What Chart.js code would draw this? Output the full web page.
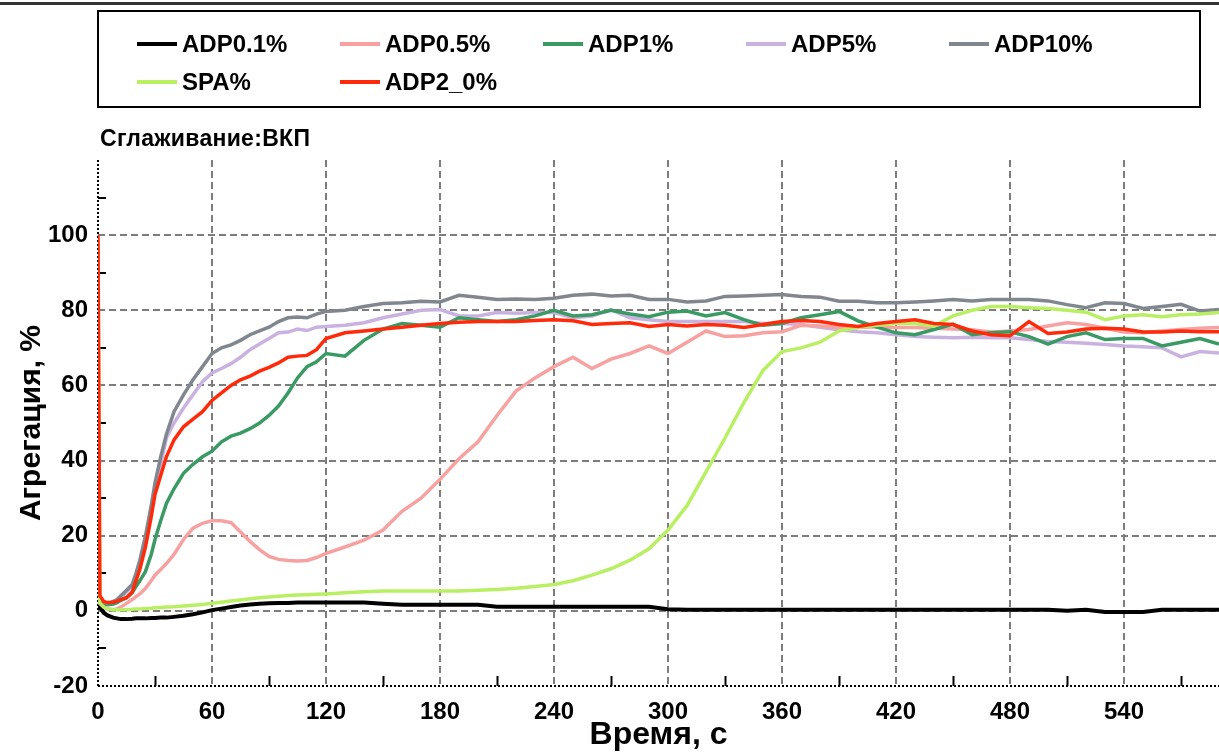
<!DOCTYPE html>
<html lang="ru">
<head>
<meta charset="utf-8">
<title>Агрегация</title>
<script src="https://cdn.jsdelivr.net/npm/chart.js@4.4.1/dist/chart.umd.min.js"></script>
<style>
  html, body {
    margin: 0;
    padding: 0;
    background: #fff;
  }
  .chart {
    position: relative;
    width: 1219px;
    height: 754px;
    overflow: hidden;
    font-family: "Liberation Sans Narrow", "Liberation Sans", Arial, sans-serif;
    font-weight: bold;
  }
  .chart canvas {
    position: absolute;
    left: 0;
    top: 0;
  }
  .top-rule {
    position: absolute;
    left: 0;
    top: 2px;
    width: 1219px;
    height: 0;
    border-top: 3px solid #333;
  }
  .chart-legend {
    position: absolute;
    left: 97px;
    top: 10px;
    width: 1104px;
    height: 98px;
    border: 2px solid #000;
    display: grid;
    grid-template-columns: repeat(5, 203px);
    grid-auto-rows: 38px;
    padding: 13px 0 0 38px;
    box-sizing: border-box;
  }
  .chart-legend .item {
    display: flex;
    align-items: center;
    font-size: 24px;
    color: #000;
    white-space: nowrap;
  }
  .chart-legend .swatch {
    width: 40px;
    height: 4px;
    margin-right: 5px;
  }
  .chart-subtitle {
    position: absolute;
    left: 100px;
    top: 125px;
    font-size: 23px;
    letter-spacing: 0.3px;
    color: #000;
  }
</style>
</head>
<body>
<div class="chart">
  <canvas id="chart" width="1219" height="754"></canvas>
  <div class="top-rule"></div>
  <div class="chart-legend" id="legend"></div>
  <div class="chart-subtitle">Сглаживание:ВКП</div>
</div>
<script>
// time, s
const times = [
  0, 1, 3, 5, 8, 10, 12, 15, 18, 20, 22, 25, 28, 30, 33, 36, 40,
  45, 50, 55, 60, 65, 70, 75, 80, 85, 90, 95, 100, 105, 110, 115, 120,
  130, 140, 150, 160, 170, 180, 190, 200, 210, 220, 230, 240, 250, 260, 270, 280, 290,
  300, 310, 320, 330, 340, 350, 360, 370, 380, 390, 400, 410, 420, 430, 440, 450, 460,
  470, 480, 490, 500, 510, 520, 530, 540, 550, 560, 570, 580, 590,
]

const adp01 = [
  3, 1, -0.5, -1.2, -1.8, -2, -2.2, -2.2, -2.1, -2, -2, -2, -1.9, -1.9, -1.8, -1.8, -1.6,
  -1.3, -0.9, -0.4, 0.2, 0.6, 1, 1.4, 1.7, 1.9, 2, 2.1, 2.1, 2.2, 2.2, 2.2, 2.2,
  2.2, 2.2, 1.9, 1.6, 1.6, 1.6, 1.6, 1.6, 1.1, 1.1, 1.1, 1.1, 1.1, 1.1, 1.1, 1.1, 1.1,
  0.4, 0.3, 0.3, 0.3, 0.3, 0.3, 0.3, 0.3, 0.3, 0.3, 0.3, 0.3, 0.3, 0.3, 0.3, 0.3, 0.3,
  0.3, 0.3, 0.3, 0.3, 0, 0.3, -0.3, -0.3, -0.3, 0.3, 0.3, 0.3, 0.3,
]

const adp05 = [
  3, 2, 1, 0.5, 0.3, 0.5, 1, 2, 3, 3.8, 4.5, 6, 8, 9.5, 11, 12.6, 15,
  19, 22, 23.3, 24, 24, 23.5, 21, 18.5, 16.3, 14.5, 13.7, 13.4, 13.3, 13.4, 14.2, 15.3,
  17, 18.8, 21.5, 26.5, 30, 35, 40.5, 45, 52, 58.5, 62, 65, 67.5, 64.5, 67, 68.5, 70.5,
  68.5, 71.5, 74.5, 73, 73.2, 74, 74.3, 76, 75.8, 75.4, 75.4, 75.6, 75.4, 75.4, 75.2, 75, 74.8,
  74.2, 74.5, 74.9, 75.8, 76.7, 76.2, 75.2, 74.2, 74, 74.5, 74.9, 75.2, 75.4,
]

const adp1 = [
  3, 2.2, 1.8, 1.6, 1.8, 2.2, 2.8, 3.5, 4.8, 6.5, 8, 10.5, 15, 19, 24, 28.6, 32.5,
  36.6, 39, 41, 42.5, 45, 46.5, 47.3, 48.5, 50, 52, 54.5, 58, 62, 65, 66.3, 68.5,
  67.8, 72, 75, 76.5, 76, 75.5, 78, 77.5, 77, 77.5, 78.5, 80, 78.5, 78.8, 80, 79, 78.3,
  79.5, 79.8, 78.5, 79.4, 77.5, 76, 76.5, 78, 78.8, 79.7, 77.2, 75.5, 74, 73.5, 74.9, 76.3, 73.5,
  74, 74.3, 73, 71, 73, 74, 72.2, 72.5, 72.5, 70.5, 71.5, 72.5, 71,
]

const adp5 = [
  3, 2.2, 1.8, 1.8, 2.2, 2.8, 3.5, 5, 6.5, 9, 12, 18, 26, 32, 39, 46, 50,
  54, 57.5, 61, 63.3, 64.5, 65.8, 67.5, 69.5, 71, 72.5, 74, 74.2, 75, 74.6, 75.5, 75.7,
  76, 76.7, 78, 79, 80, 80.2, 78.5, 78.5, 79.4, 79.2, 79.4, 79.4, 78, 78.5, 80.2, 78, 77.5,
  77, 77, 77, 77, 77, 76.5, 76.5, 76.2, 75.5, 74.8, 74.3, 74, 73.5, 73, 72.8, 72.7, 72.8,
  72.7, 72.7, 72.2, 71.7, 71.5, 71.2, 70.9, 70.5, 70.3, 70, 67.6, 69, 68.6,
]

const adp10 = [
  3, 2.5, 2, 2, 2.5, 3, 4, 5.5, 7, 10, 13.4, 20, 28, 34, 41, 47, 53,
  57.5, 61.5, 65, 68.5, 70, 70.8, 72, 73.5, 74.5, 75.5, 77, 78, 78.2, 78, 79, 79.7,
  80, 81, 81.8, 82, 82.4, 82.2, 84, 83.5, 82.9, 83, 82.9, 83.2, 84, 84.3, 83.8, 84, 82.9,
  82.9, 82.2, 82.5, 83.7, 83.8, 84, 84.2, 83.7, 83.5, 82.4, 82.4, 82, 82, 82.2, 82.5, 82.9, 82.5,
  82.9, 82.9, 82.9, 82.5, 81.5, 80.7, 82, 81.8, 80.5, 81, 81.6, 79.8, 80.2,
]

const spa = [
  98, 2, 1, 0.6, 0.3, 0.3, 0.3, 0.3, 0.4, 0.5, 0.5, 0.6, 0.7, 0.8, 0.9, 1, 1.1,
  1.3, 1.5, 1.7, 2, 2.3, 2.6, 2.9, 3.2, 3.5, 3.7, 3.9, 4.1, 4.2, 4.3, 4.4, 4.5,
  4.8, 5.1, 5.3, 5.3, 5.3, 5.3, 5.3, 5.5, 5.7, 6, 6.5, 7, 8, 9.5, 11.2, 13.5, 16.5,
  21.5, 28, 37, 46, 55.5, 64, 69, 70, 71.5, 74.5, 75.5, 76, 76.5, 76.5, 75.8, 78.5, 80,
  81, 81, 80.7, 80.5, 80, 79.5, 77.5, 78.5, 78.8, 78.3, 78.8, 79, 79.4,
]

const adp2 = [
  100, 4, 2.5, 2.2, 2.3, 2.6, 3, 3.5, 5, 8, 11, 17, 25, 31, 36, 41, 45.5,
  49, 51, 53, 56, 58, 60, 61.5, 62.5, 63.8, 64.8, 66, 67.5, 67.8, 68, 69.5, 72.5,
  74, 74.5, 75, 75.5, 76, 76.5, 76.8, 77, 77, 77, 77.3, 77.5, 77.2, 76.2, 76.5, 76.7, 75.7,
  76.2, 75.8, 76.2, 76, 75.4, 76.2, 77, 77.3, 77, 76.2, 75.7, 76.5, 77, 77.5, 76.5, 76.2, 74.5,
  73.5, 73.2, 77, 73.8, 74.2, 75, 75.2, 75, 74.2, 74.2, 74.5, 74.3, 74.3,
]

const seriesNames = ["ADP0.1%", "ADP0.5%", "ADP1%", "ADP5%", "ADP10%", "SPA%", "ADP2_0%"]
const seriesValues = [adp01, adp05, adp1, adp5, adp10, spa, adp2]
const seriesColors = ["#000000", "#f7a1a1", "#3a9a64", "#c9b2e0", "#80878e", "#b9ef62", "#ff2a0a"]
// lower = drawn later (on top)
const seriesOrder = [6, 4, 3, 5, 2, 1, 0]

const xTickValues = [0, 60, 120, 180, 240, 300, 360, 420, 480, 540]
const xMinorValues = [30, 90, 150, 210, 270, 330, 390, 450, 510, 570]
const yTickValues = [-20, 0, 20, 40, 60, 80, 100, 120]
const yMinorValues = [-10, 10, 30, 50, 70, 90, 110]

const FONT = "'Liberation Sans Narrow', 'Liberation Sans', Arial, sans-serif"

const legendEl = document.getElementById("legend")
seriesNames.forEach((name, i) => {
  const item = document.createElement("div")
  item.className = "item"
  const sw = document.createElement("span")
  sw.className = "swatch"
  sw.style.background = seriesColors[i]
  const label = document.createElement("span")
  label.textContent = name
  item.appendChild(sw)
  item.appendChild(label)
  legendEl.appendChild(item)
})

// dotted axis lines + small inner ticks
const axisDecor = {
  id: "axisDecor",
  beforeDatasetsDraw(chart) {
    const { ctx, chartArea: a, scales } = chart
    const line = (x1, y1, x2, y2) => {
      ctx.beginPath()
      ctx.moveTo(x1, y1)
      ctx.lineTo(x2, y2)
      ctx.stroke()
    }
    ctx.save()
    ctx.strokeStyle = "#000"
    ctx.lineWidth = 2
    xMinorValues.forEach((v) => {
      const px = Math.round(scales.x.getPixelForValue(v)) + 0.5
      line(px, a.bottom, px, a.bottom - 10)
    })
    yMinorValues.forEach((v) => {
      const py = Math.round(scales.y.getPixelForValue(v))
      line(a.left, py, a.left + 8, py)
    })
    ctx.setLineDash([2, 2])
    line(a.left, a.top, a.left, a.bottom)
    line(a.left, a.bottom, a.right, a.bottom)
    ctx.restore()
  },
}

const ctx = document.getElementById("chart").getContext("2d")

new Chart(ctx, {
  type: "line",
  data: {
    datasets: seriesNames.map((name, i) => ({
      label: name,
      data: times.map((t, j) => ({ x: t, y: seriesValues[i][j] })),
      borderColor: seriesColors[i],
      backgroundColor: seriesColors[i],
      borderWidth: i === 0 ? 4 : 3.5,
      pointRadius: 0,
      tension: 0,
      fill: false,
      order: seriesOrder[i],
    })),
  },
  options: {
    responsive: false,
    animation: false,
    layout: {
      padding: { top: 160, left: 0, right: 0, bottom: 0 },
    },
    plugins: {
      legend: { display: false },
      tooltip: { enabled: false },
    },
    scales: {
      x: {
        type: "linear",
        min: 0,
        max: 590,
        afterBuildTicks: (scale) => {
          scale.ticks = xTickValues.map((v) => ({ value: v }))
        },
        afterFit: (scale) => {
          scale.height = 68
        },
        grid: {
          color: (c) => (c.tick && c.tick.value === 0 ? "rgba(0,0,0,0)" : "#7d7d7d"),
          lineWidth: 2,
          drawTicks: false,
        },
        border: { display: false, dash: [7, 4] },
        ticks: {
          padding: 12,
          color: "#000",
          maxRotation: 0,
          font: { family: FONT, size: 24, weight: "bold" },
        },
        title: {
          display: true,
          text: "Время, с",
          color: "#000",
          padding: 0,
          font: { family: "'Liberation Sans', Arial, sans-serif", size: 32, weight: "bold" },
        },
      },
      y: {
        min: -20,
        max: 120,
        afterBuildTicks: (scale) => {
          scale.ticks = yTickValues.map((v) => ({ value: v }))
        },
        afterFit: (scale) => {
          scale.width = 98
        },
        grid: {
          color: (c) =>
            c.tick && (c.tick.value === -20 || c.tick.value === 120) ? "rgba(0,0,0,0)" : "#7d7d7d",
          lineWidth: 2,
          drawTicks: false,
        },
        border: { display: false, dash: [7, 4] },
        ticks: {
          padding: 10,
          color: "#000",
          font: { family: FONT, size: 24, weight: "bold" },
          callback: (v) => (v === 120 ? "" : v),
        },
        title: {
          display: true,
          text: "Агрегация, %",
          color: "#000",
          padding: { top: 14, bottom: 0 },
          font: { family: "'Liberation Sans', Arial, sans-serif", size: 30, weight: "bold" },
        },
      },
    },
  },
  plugins: [axisDecor],
})
</script>
</body>
</html>
